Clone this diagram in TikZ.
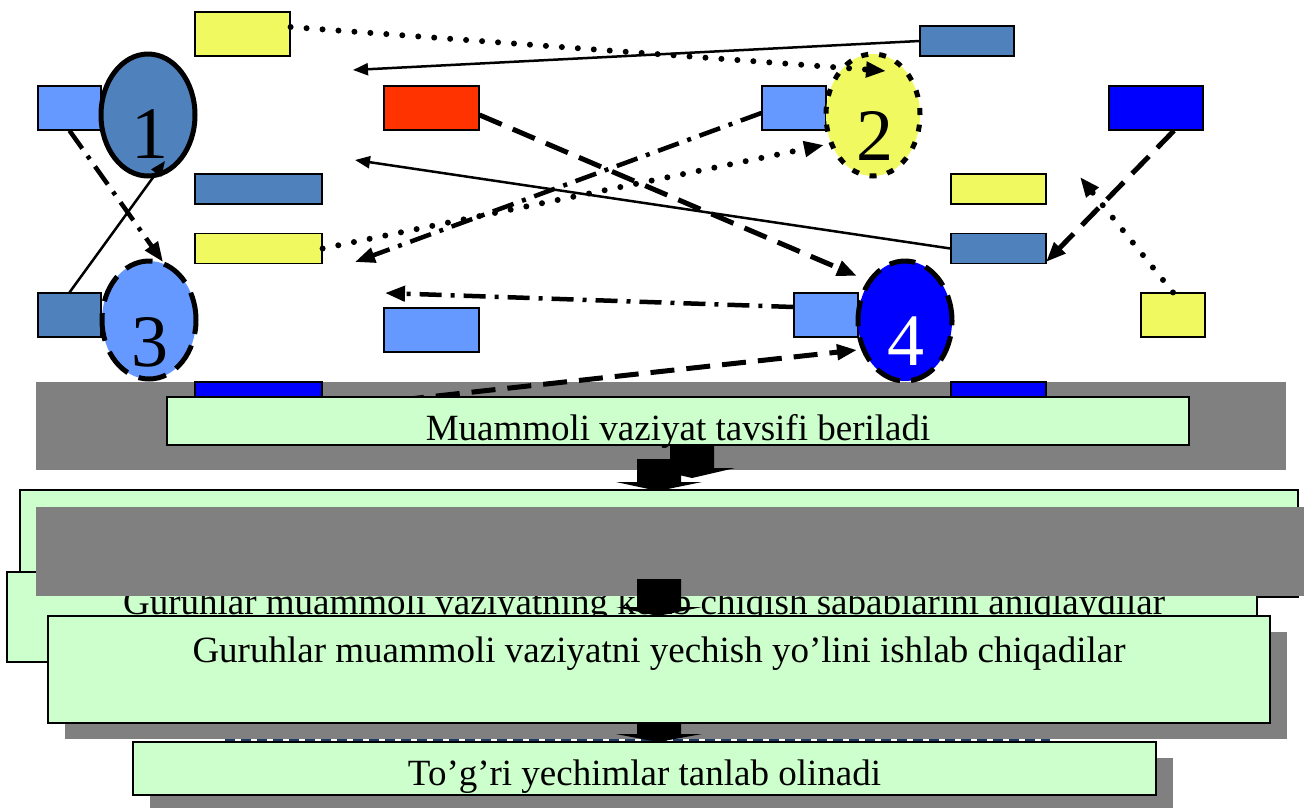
\documentclass[tikz,border=0pt]{standalone}
\usepackage{fontspec}
\setmainfont{Liberation Serif}
\usetikzlibrary{arrows.meta,shapes.geometric,shadows}
\definecolor{ycol}{RGB}{240,250,96}
\definecolor{sbcol}{HTML}{4F81BD}
\definecolor{lbcol}{HTML}{6699FF}
\definecolor{redcol}{HTML}{FF3300}
\definecolor{blcol}{HTML}{0000FF}
\definecolor{gcol}{HTML}{CCFFCC}
\definecolor{grcol}{HTML}{808080}
\definecolor{navycol}{HTML}{1F3864}
\begin{document}
\begin{tikzpicture}[x=1pt,y=-1pt,
  rbox/.style={draw=black, line width=1.2pt, inner sep=0pt},
  ell/.style={ellipse, draw=black, line width=5pt, inner sep=0pt, minimum width=94pt},
  dig/.style={font=\fontsize{74}{74}\selectfont, anchor=base, inner sep=0pt},
  gbox/.style={draw=black, line width=1.5pt, fill=gcol, inner sep=0pt, font=\fontsize{37}{40}\selectfont},
  gshadow/.style={drop shadow={shadow xshift=17pt, shadow yshift=-15.5pt, opacity=1, fill=grcol}},
  bigarrow/.style={-{Triangle[length=20pt,width=15pt]}},
  smallarrow/.style={-{Triangle[length=15pt,width=12pt]}},
  solidline/.style={line width=2.5pt, smallarrow},
  dotline/.style={line width=6pt, dash pattern=on 0pt off 16pt, line cap=round, bigarrow},
  dashline/.style={line width=5pt, dash pattern=on 24pt off 12pt, bigarrow},
  dashdotline/.style={line width=4.5pt, dash pattern=on 22pt off 9pt on 4pt off 9pt, bigarrow},
  blockarrow/.style={fill=black}]
\useasboundingbox (0,0) rectangle (1304,807);

% gray band behind first step
\fill[grcol] (36,382) rectangle (1286,470);
\node[rbox, fill=blcol, minimum width=127pt, minimum height=30pt] (blM) at (258.5,397) {};
\node[rbox, fill=blcol, minimum width=95pt, minimum height=30pt] (blN) at (998.5,397) {};

% top rectangles
\node[rbox, fill=ycol, minimum width=95pt, minimum height=44pt] (yT) at (242.5,34) {};
\node[rbox, fill=lbcol, minimum width=63pt, minimum height=44pt] (lbA) at (69.5,108) {};
\node[rbox, fill=sbcol, minimum width=127pt, minimum height=30pt] (sbB) at (258.5,189) {};
\node[rbox, fill=ycol, minimum width=127pt, minimum height=30pt] (yC) at (258.5,248.5) {};
\node[rbox, fill=sbcol, minimum width=63pt, minimum height=44pt] (sbD) at (69.5,315) {};
\node[rbox, fill=redcol, minimum width=95pt, minimum height=44pt] (red) at (431.5,108) {};
\node[rbox, fill=lbcol, minimum width=95pt, minimum height=44pt] (lbE) at (431.5,330) {};
\node[rbox, fill=sbcol, minimum width=94pt, minimum height=30pt] (sbF) at (967,41) {};
\node[rbox, fill=lbcol, minimum width=64pt, minimum height=44pt] (lbG) at (794,108) {};
\node[rbox, fill=blcol, minimum width=94pt, minimum height=44pt] (blH) at (1156,108) {};
\node[rbox, fill=ycol, minimum width=95pt, minimum height=30pt] (yI) at (998.5,189) {};
\node[rbox, fill=sbcol, minimum width=95pt, minimum height=30pt] (sbJ) at (998.5,248.5) {};
\node[rbox, fill=lbcol, minimum width=64pt, minimum height=44pt] (lbK) at (826,315) {};
\node[rbox, fill=ycol, minimum width=64pt, minimum height=44pt] (yL) at (1173,315) {};

% ellipses
\node[ell, fill=sbcol, minimum height=122pt] (e1) at (148,115) {};
\node[ell, fill=ycol, minimum height=122pt, dash pattern=on 7pt off 11pt] (e2) at (873,115) {};
\node[ell, fill=lbcol, minimum height=118pt, dash pattern=on 28pt off 12pt] (e3) at (149,320) {};
\node[ell, fill=blcol, minimum height=120pt, dash pattern=on 26pt off 11pt] (e4) at (905,321) {};
\node[dig] (d1) at (150,158) {1};
\node[dig] (d2) at (875,160) {2};
\node[dig] (d3) at (150,366) {3};
\node[dig, text=white] (d4) at (906,365) {4};

% connector end points
\coordinate (t1) at (886,71);
\coordinate (t2) at (353,70);
\coordinate (t3) at (857,276);
\coordinate (t4) at (355,262);
\coordinate (t5) at (824,145);
\coordinate (t6) at (355,160);
\coordinate (t7) at (385,293);
\coordinate (t8) at (857,350);
\coordinate (s8) at (400,400);
\coordinate (t9) at (165,161);
\coordinate (t10) at (163,262);
\coordinate (t11) at (1046,262);
\coordinate (t12) at (1080,177);

% connectors
\draw[dashline] (s8) -- (t8);
\draw[dotline] ([yshift=7pt]yT.east) -- (t1);
\draw[solidline] (sbF.west) -- (t2);
\draw[dashline] ([yshift=-7pt]red.east) -- (t3);
\draw[dashdotline] ([yshift=-5pt]lbG.west) -- (t4);
\draw[dotline] (yC.east) -- (t5);
\draw[solidline] (sbJ.west) -- (t6);
\draw[dashdotline] ([yshift=8pt]lbK.west) -- (t7);
\draw[solidline] (sbD.north) -- (t9);
\draw[dashdotline] (lbA.south) -- (t10);
\draw[dashline] ([xshift=18pt]blH.south) -- (t11);
\draw[dotline] (yL.north) -- (t12);

% step 1
\node[gbox, minimum width=1022pt, text height=43pt, text depth=5pt] (b1) at (678,421) {Muammoli vaziyat tavsifi beriladi};
\fill[blockarrow] (670,445) -- (714,445) -- (714,468) -- (735,468) -- (692,478) -- (649,468) -- (670,468) -- cycle;
\fill[blockarrow] (637,459) -- (681,459) -- (681,482) -- (702,482) -- (658,491) -- (616,482) -- (637,482) -- cycle;

% step 2 and 3 (partly hidden)
\node[gbox, minimum width=1278pt, minimum height=107pt] (b2) at (659,543.5) {};
\node[gbox, minimum width=1250pt, minimum height=90pt] (b3) at (632,617) {};
\node[font=\fontsize{37}{40}\selectfont, anchor=base, inner sep=0pt] (t3txt) at (644,614) {Guruhlar muammoli vaziyatning kelib chiqish sabablarini aniqlaydilar};
\fill[grcol] (36,507) rectangle (1304,596);
\fill[blockarrow] (637,579) -- (681,579) -- (681,607) -- (702,607) -- (658,616) -- (616,607) -- (637,607) -- cycle;

% step 4
\node[gbox, gshadow, minimum width=1222pt, text height=46pt, text depth=61pt] (b4) at (659,669.5) {Guruhlar muammoli vaziyatni yechish yo’lini ishlab chiqadilar};
\draw[navycol, line width=2pt, dash pattern=on 10pt off 6pt] (225,740) -- (1050,740);
\fill[blockarrow] (637,723) -- (681,723) -- (681,734) -- (702,734) -- (658,742) -- (616,734) -- (637,734) -- cycle;

% step 5
\node[gbox, gshadow, minimum width=1023pt, text height=43pt, text depth=10pt] (b5) at (644.5,768.5) {To’g’ri yechimlar tanlab olinadi};
\end{tikzpicture}
\end{document}
